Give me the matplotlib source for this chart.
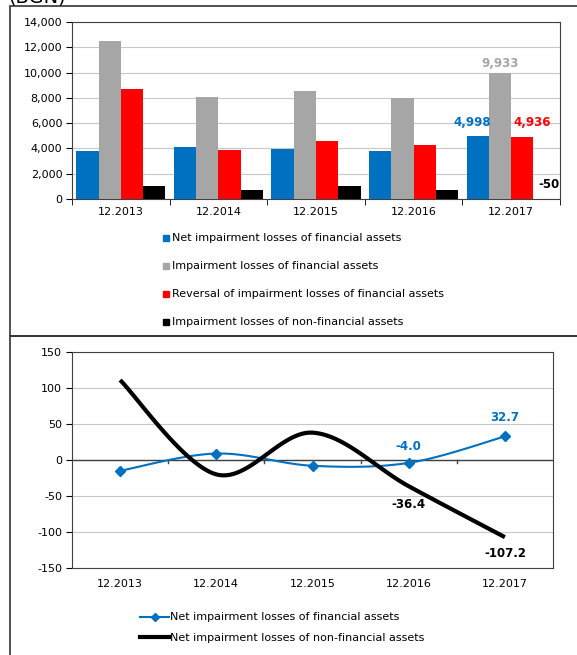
import numpy as np
import matplotlib
matplotlib.use('Agg')
import matplotlib.pyplot as plt
from matplotlib.lines import Line2D
from matplotlib.patches import Rectangle

plt.rcParams['font.family'] = ['DejaVu Sans']
plt.rcParams['font.size'] = 8
plt.rcParams['axes.unicode_minus'] = False

# data
periods = ['12.2013', '12.2014', '12.2015', '12.2016', '12.2017']
net_fin = [3800, 4150, 3950, 3800, 4998]
imp_fin = [12500, 8100, 8550, 8000, 9933]
rev_fin = [8700, 3900, 4600, 4250, 4936]
imp_nonfin = [1000, 750, 1050, 700, -50]
bar_names = ['Net impairment losses of financial assets',
             'Impairment losses of financial assets',
             'Reversal of impairment losses of financial assets',
             'Impairment losses of non-financial assets']

chg_fin = [-15, 9, -8, -4.0, 32.7]
chg_nonfin = [111, -20, 38, -36.4, -107.2]
line_names = ['Net impairment losses of financial assets',
              'Net impairment losses of non-financial assets']

blue = '#0070C0'
gray = '#A6A6A6'
red = '#FF0000'
black = '#000000'


def smooth(xs, ys, n=30):
    # Catmull-Rom curve through the points (like Excel's smoothed line)
    p = np.column_stack([xs, ys]).astype(float)
    p = np.vstack([p[0], p, p[-1]])
    out = []
    for i in range(1, len(p) - 2):
        p0, p1, p2, p3 = p[i - 1], p[i], p[i + 1], p[i + 2]
        t = np.linspace(0, 1, n)[:, None]
        c = 0.5 * ((2 * p1) + (-p0 + p2) * t + (2 * p0 - 5 * p1 + 4 * p2 - p3) * t**2
                   + (-p0 + 3 * p1 - 3 * p2 + p3) * t**3)
        out.append(c if i == 1 else c[1:])
    c = np.vstack(out)
    return c[:, 0], c[:, 1]


W, H = 577, 655
fig = plt.figure(figsize=(W / 100, H / 100), dpi=100)

def fx(px):
    return px / W

def fy(py):
    return 1 - py / H

# panel frames
fig.add_artist(Rectangle((fx(10), fy(336)), fx(600), fy(6) - fy(336), transform=fig.transFigure,
                         fill=False, ec='#333333', lw=1.2))
fig.add_artist(Rectangle((fx(10), fy(700)), fx(600), fy(336) - fy(700), transform=fig.transFigure,
                         fill=False, ec='#333333', lw=1.2))
fig.text(fx(8), fy(-3), '(BGN)', fontsize=14, va='center', ha='left')

# ---- top bar chart
ax1 = fig.add_axes([fx(72), fy(199), fx(560 - 72), fy(22) - fy(199)])
x = np.arange(len(periods))
w = 0.228
series = [net_fin, imp_fin, rev_fin, imp_nonfin]
colors = [blue, gray, red, black]
for i, (vals, col) in enumerate(zip(series, colors)):
    ax1.bar(x + (i - 1.5) * w, vals, w, color=col, zorder=3)
ax1.set_xlim(-0.5, 4.5)
ax1.set_ylim(0, 14000)
ax1.set_yticks(range(0, 14001, 2000))
ax1.set_yticklabels([f'{v:,}' for v in range(0, 14001, 2000)])
ax1.set_xticks(x)
ax1.set_xticklabels(periods)
ax1.set_xticks(np.arange(-0.5, 5, 1), minor=True)
ax1.tick_params(axis='x', which='major', length=0, pad=6)
ax1.tick_params(axis='x', which='minor', length=4, direction='out')
ax1.tick_params(axis='y', length=4, pad=3)
ax1.yaxis.grid(True, color='#C8C8C8', lw=0.8, zorder=0)
for s in ax1.spines.values():
    s.set_color('#404040')

last = len(periods) - 1
ax1.text(last - 1.5 * w - 0.06, net_fin[last] + 500, f'{net_fin[last]:,}', color=blue, ha='center',
         fontweight='bold', fontsize=8.5, va='bottom')
ax1.text(last - 0.5 * w, imp_fin[last] + 300, f'{imp_fin[last]:,}', color=gray, ha='center',
         fontweight='bold', fontsize=8.5, va='bottom')
ax1.text(last + 0.5 * w + 0.1, rev_fin[last] + 600, f'{rev_fin[last]:,}', color=red, ha='center',
         fontweight='bold', fontsize=8.5, va='bottom')
ax1.text(last + 1.5 * w + 0.05, 600, f'{imp_nonfin[last]:,}', color=black, ha='center',
         fontweight='bold', fontsize=8.5, va='bottom')

h1 = [Line2D([], [], marker='s', ls='none', color=c, markersize=5) for c in colors]
fig.legend(h1, bar_names, loc='upper left', bbox_to_anchor=(fx(158), fy(229)),
           frameon=False, handlelength=0.6, handletextpad=0.3, labelspacing=1.62,
           borderaxespad=0, fontsize=8)

# ---- bottom line chart
ax2 = fig.add_axes([fx(72), fy(568), fx(553 - 72), fy(352) - fy(568)])
sx, sy = smooth(x, chg_fin)
ax2.plot(sx, sy, color=blue, lw=1.5, zorder=3)
ax2.plot(x, chg_fin, ls='none', marker='D', color=blue, markersize=5, zorder=4)
sx, sy = smooth(x, chg_nonfin)
ax2.plot(sx, sy, color=black, lw=3, zorder=3, solid_capstyle='butt')
ax2.set_xlim(-0.5, 4.5)
ax2.set_ylim(-150, 150)
ax2.set_yticks(range(-150, 151, 50))
ax2.yaxis.grid(True, color='#C8C8C8', lw=0.8, zorder=0)
ax2.axhline(0, color='#404040', lw=1, zorder=2)
ax2.set_xticks(x)
ax2.set_xticklabels(periods)
ax2.tick_params(axis='x', length=0, pad=8)
ax2.tick_params(axis='y', length=4, pad=3)
for xm in np.arange(0.5, 4, 1):
    ax2.plot([xm, xm], [0, -4], color='#404040', lw=1, zorder=2)
for s in ax2.spines.values():
    s.set_color('#404040')

ax2.text(3, chg_fin[3] + 14, f'{chg_fin[3]:.1f}', color=blue, ha='center', va='bottom',
         fontweight='bold', fontsize=8.5)
ax2.text(4, chg_fin[4] + 17, f'{chg_fin[4]:.1f}', color=blue, ha='center', va='bottom',
         fontweight='bold', fontsize=8.5)
ax2.text(3, chg_nonfin[3] - 17, f'{chg_nonfin[3]:.1f}', color=black, ha='center', va='top',
         fontweight='bold', fontsize=8.5)
ax2.text(4, chg_nonfin[4] - 14, f'{chg_nonfin[4]:.1f}', color=black, ha='center', va='top',
         fontweight='bold', fontsize=8.5)

h2 = [Line2D([], [], color=blue, lw=1.5, marker='D', markersize=4),
      Line2D([], [], color=black, lw=3)]
fig.legend(h2, line_names, loc='upper left', bbox_to_anchor=(fx(136), fy(608)),
           frameon=False, handlelength=2.6, handletextpad=0.1, labelspacing=0.95,
           borderaxespad=0, fontsize=8)

fig.savefig('out.png', dpi=100)
